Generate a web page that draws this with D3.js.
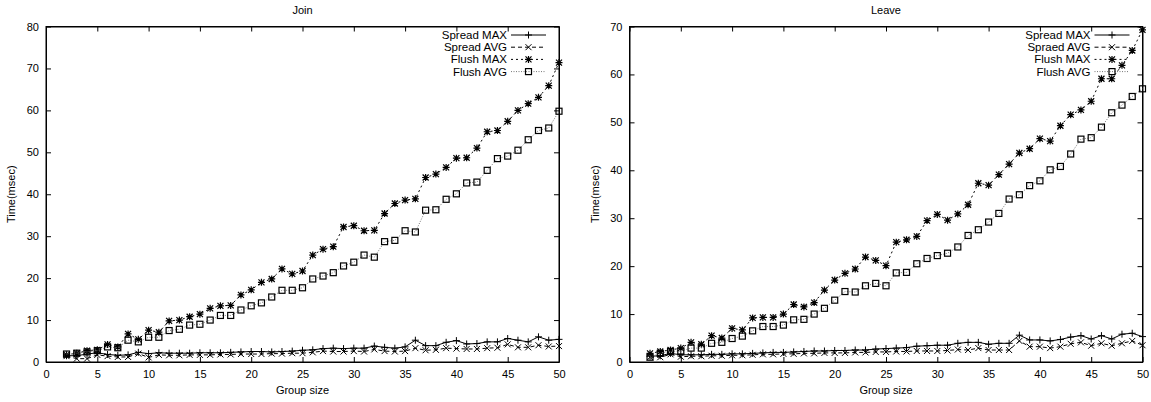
<!DOCTYPE html>
<html>
<head>
<meta charset="utf-8">
<script src="https://cdn.jsdelivr.net/npm/d3@7"></script>
<style>
  body { margin: 0; background: #fff; }
  text { font-family: "Liberation Sans", Arial, sans-serif; fill: #000; }
</style>
</head>
<body>
<div id="chart"></div>
<script>
// group sizes on the x axis
var groupSizes = [2, 3, 4, 5, 6, 7, 8, 9, 10, 11, 12, 13, 14, 15, 16, 17, 18, 19, 20, 21,
  22, 23, 24, 25, 26, 27, 28, 29, 30, 31, 32, 33, 34, 35, 36, 37, 38, 39, 40, 41,
  42, 43, 44, 45, 46, 47, 48, 49, 50]

// Join
var joinSpreadMax = [1.5, 1.5, 1.9, 2.2, 1.8, 1.6, 1.7, 2.3, 2.0, 2.2,
  2.1, 2.1, 2.1, 2.2, 2.2, 2.2, 2.3, 2.4, 2.5, 2.5,
  2.4, 2.5, 2.6, 2.8, 2.9, 3.2, 3.3, 3.2, 3.3, 3.3,
  3.8, 3.5, 3.3, 3.6, 5.2, 3.9, 3.9, 4.7, 5.1, 4.3,
  4.4, 4.8, 4.8, 5.6, 5.2, 4.8, 6.0, 5.2, 5.4]
var joinSpreadAvg = [1.4, 0.8, 0.8, 1.7, 1.4, 1.2, 1.2, 2.0, 1.1, 1.7,
  1.6, 1.6, 1.7, 1.7, 1.7, 1.8, 1.8, 1.9, 1.9, 1.9,
  2.0, 2.0, 2.1, 2.1, 2.3, 2.6, 2.5, 2.5, 2.6, 2.5,
  3.0, 2.6, 2.5, 2.6, 3.3, 2.8, 2.9, 3.3, 3.2, 3.1,
  3.1, 3.3, 3.4, 4.2, 3.5, 3.5, 4.0, 3.7, 3.8]
var joinFlushMax = [1.7, 2.1, 2.7, 2.9, 4.2, 3.6, 6.7, 5.4, 7.6, 7.1,
  9.8, 10.0, 10.8, 11.4, 12.8, 13.4, 13.5, 16.0, 17.2, 19.0,
  19.8, 22.2, 21.0, 21.7, 25.5, 26.9, 27.5, 32.2, 32.5, 31.3,
  31.4, 35.4, 37.8, 38.6, 38.9, 44.0, 44.8, 46.4, 48.6, 48.7,
  51.0, 54.9, 55.2, 57.4, 60.0, 61.6, 63.1, 65.9, 71.4]
var joinFlushAvg = [1.9, 2.1, 2.4, 2.7, 3.6, 3.4, 5.2, 4.8, 5.9, 5.9,
  7.5, 7.8, 8.8, 9.0, 10.0, 11.1, 11.1, 12.4, 13.4, 14.1,
  15.5, 17.1, 17.1, 17.7, 19.8, 20.5, 21.3, 22.9, 23.8, 25.5,
  25.0, 28.7, 29.0, 31.3, 31.0, 36.2, 36.3, 38.8, 40.1, 42.7,
  42.9, 45.7, 48.5, 49.1, 50.5, 53.0, 55.2, 55.8, 59.8]

// Leave
var leaveSpreadMax = [1.2, 1.3, 1.8, 1.5, 1.5, 1.5, 1.6, 1.6, 1.7, 1.7,
  1.8, 1.9, 2.0, 2.0, 2.1, 2.2, 2.3, 2.3, 2.4, 2.4,
  2.5, 2.5, 2.7, 2.8, 2.9, 3.0, 3.3, 3.4, 3.5, 3.5,
  3.9, 4.1, 4.1, 3.7, 3.9, 3.9, 5.6, 4.6, 4.6, 4.4,
  4.7, 5.2, 5.5, 4.8, 5.5, 4.8, 5.8, 6.0, 5.3]
var leaveSpreadAvg = [1.0, 1.0, 1.6, 1.1, 1.2, 1.2, 1.3, 1.3, 1.4, 1.4,
  1.5, 1.6, 1.6, 1.7, 1.7, 1.8, 1.8, 1.9, 1.9, 1.9,
  2.0, 2.0, 2.1, 2.1, 2.2, 2.2, 2.3, 2.3, 2.3, 2.4,
  2.6, 2.5, 2.9, 2.5, 2.5, 2.5, 4.4, 3.2, 3.2, 2.9,
  3.2, 3.8, 4.1, 3.4, 3.9, 3.4, 3.9, 4.4, 3.5]
var leaveFlushMax = [1.8, 2.2, 2.5, 2.9, 4.1, 3.7, 5.5, 5.0, 7.0, 6.7,
  9.2, 9.3, 9.3, 10.0, 12.0, 11.5, 12.4, 15.0, 17.1, 18.5,
  19.4, 21.9, 21.2, 20.1, 25.0, 25.5, 26.2, 29.5, 30.8, 29.6,
  30.9, 32.8, 37.3, 36.9, 39.1, 41.3, 43.6, 44.5, 46.6, 46.1,
  49.3, 51.6, 52.6, 54.4, 59.1, 59.1, 61.9, 65.0, 69.3]
var leaveFlushAvg = [1.0, 1.8, 2.2, 2.3, 2.9, 2.9, 3.9, 4.1, 4.9, 5.4,
  6.5, 7.4, 7.4, 7.7, 8.8, 8.9, 10.0, 11.2, 12.9, 14.7,
  14.6, 15.9, 16.4, 15.9, 18.6, 18.7, 20.5, 21.6, 22.2, 22.7,
  24.0, 26.4, 27.6, 29.2, 31.0, 34.0, 34.9, 36.8, 37.8, 40.1,
  40.8, 43.4, 46.5, 46.8, 49.0, 52.0, 53.6, 55.4, 57.0]

var joinLabels = ['Spread MAX', 'Spread AVG', 'Flush MAX', 'Flush AVG']
var leaveLabels = ['Spread MAX', 'Spraed AVG', 'Flush MAX', 'Flush AVG']

var width = 1151, height = 402

var svg = d3.select("#chart")
  .append("svg")
  .attr("width", width)
  .attr("height", height)

// line + marker style for each series, gnuplot-ish
var styles = [
  { dash: null, color: '#000', marker: 'plus' },
  { dash: '4,3', color: '#000', marker: 'cross' },
  { dash: '2,3', color: '#000', marker: 'star' },
  { dash: '1,1.5', color: '#777', marker: 'box' }
]

function drawMarker(g, type, x, y) {
  if (type == 'plus') {
    g.append('path')
      .attr('d', `M${x - 3.5},${y}h7M${x},${y - 3.5}v7`)
      .attr('stroke', '#000').attr('stroke-width', 1)
  } else if (type == 'cross') {
    g.append('path')
      .attr('d', `M${x - 3},${y - 3}l6,6M${x - 3},${y + 3}l6,-6`)
      .attr('stroke', '#000').attr('stroke-width', 1)
  } else if (type == 'star') {
    g.append('path')
      .attr('d', `M${x - 3.5},${y}h7M${x},${y - 3.5}v7M${x - 3},${y - 3}l6,6M${x - 3},${y + 3}l6,-6`)
      .attr('stroke', '#000').attr('stroke-width', 1.2)
  } else {
    g.append('rect')
      .attr('x', x - 3).attr('y', y - 3)
      .attr('width', 6).attr('height', 6)
      .attr('fill', 'none')
      .attr('stroke', '#000').attr('stroke-width', 1.2)
  }
}

function drawPanel(opts) {
  var xScale = d3.scaleLinear()
    .domain([0, 50])
    .range([opts.left, opts.right])

  var yScale = d3.scaleLinear()
    .domain([0, opts.yMax])
    .range([362, 26.5])

  var g = svg.append('g')

  // axes with inward ticks
  var yAxis = d3.axisLeft(yScale).ticks(opts.yMax / 10).tickSizeInner(-5).tickSizeOuter(0).tickPadding(7)
  var xAxis = d3.axisBottom(xScale).ticks(10).tickSizeInner(-5).tickSizeOuter(0).tickPadding(8)

  g.append('g')
    .attr('transform', `translate(${opts.left},0)`)
    .call(yAxis)
  g.append('g')
    .attr('transform', `translate(0,362)`)
    .call(xAxis)
  // mirrored ticks
  g.append('g')
    .attr('transform', `translate(${opts.right},0)`)
    .call(d3.axisRight(yScale).ticks(opts.yMax / 10).tickSizeInner(-5).tickSizeOuter(0).tickFormat(''))
  g.append('g')
    .attr('transform', `translate(0,26.5)`)
    .call(d3.axisTop(xScale).ticks(10).tickSizeInner(-5).tickSizeOuter(0).tickFormat(''))

  g.selectAll('.tick text')
    .attr('font-family', '"Liberation Sans", Arial, sans-serif')
    .style('font-size', '11px')
    .attr('fill', '#000')
  g.selectAll('.domain, .tick line')
    .attr('stroke', '#000')

  g.append('rect')
    .attr('x', opts.left)
    .attr('y', 26.5)
    .attr('width', opts.right - opts.left)
    .attr('height', 362 - 26.5)
    .attr('fill', 'none')
    .attr('stroke', '#000')
    .attr('stroke-width', 1)

  // title and axis labels
  g.append('text')
    .attr('x', (opts.left + opts.right) / 2)
    .attr('y', 14)
    .attr('text-anchor', 'middle')
    .style('font-size', '11px')
    .text(opts.title)

  g.append('text')
    .attr('x', (opts.left + opts.right) / 2)
    .attr('y', 394)
    .attr('text-anchor', 'middle')
    .style('font-size', '11px')
    .text('Group size')

  g.append('text')
    .attr('transform', `translate(${opts.left - 31},${(26.5 + 362) / 2}) rotate(-90)`)
    .attr('text-anchor', 'middle')
    .style('font-size', '11px')
    .text('Time(msec)')

  var line = d3.line()
    .x(function(d) { return xScale(d[0]) })
    .y(function(d) { return yScale(d[1]) })

  opts.series.forEach(function(values, i) {
    var pts = groupSizes.map(function(x, j) { return [x, values[j]] })
    var st = styles[i]
    g.append('path')
      .datum(pts)
      .attr('d', line)
      .attr('fill', 'none')
      .attr('stroke', st.color)
      .attr('stroke-width', 1)
      .attr('stroke-dasharray', st.dash)
    var mg = g.append('g')
    pts.forEach(function(p) {
      drawMarker(mg, st.marker, xScale(p[0]), yScale(p[1]))
    })
  })

  // legend
  var lg = g.append('g').attr('class', 'legend')
  opts.labels.forEach(function(label, i) {
    var ly = 35 + i * 12.2
    var st = styles[i]
    lg.append('text')
      .attr('x', opts.right - 52)
      .attr('y', ly + 4)
      .attr('text-anchor', 'end')
      .style('font-size', '11.5px')
      .text(label)
    lg.append('line')
      .attr('x1', opts.right - 48)
      .attr('x2', opts.right - 13)
      .attr('y1', ly)
      .attr('y2', ly)
      .attr('stroke', st.color)
      .attr('stroke-width', 1)
      .attr('stroke-dasharray', st.dash)
    drawMarker(lg, st.marker, opts.right - 30.5, ly)
  })
}

drawPanel({
  title: 'Join',
  left: 46,
  right: 559,
  yMax: 80,
  labels: joinLabels,
  series: [joinSpreadMax, joinSpreadAvg, joinFlushMax, joinFlushAvg]
})

drawPanel({
  title: 'Leave',
  left: 629.5,
  right: 1142.5,
  yMax: 70,
  labels: leaveLabels,
  series: [leaveSpreadMax, leaveSpreadAvg, leaveFlushMax, leaveFlushAvg]
})
</script>
</body>
</html>
